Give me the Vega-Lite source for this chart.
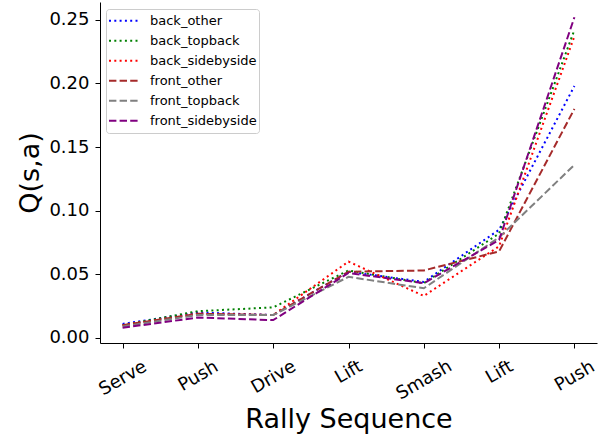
{
  "$schema": "https://vega.github.io/schema/vega-lite/v6.json",
  "width": 497,
  "height": 341,
  "autosize": {"type": "none"},
  "padding": {"left": 100, "top": 2, "right": 8, "bottom": 94},
  "background": "white",
  "config": {
    "view": {"stroke": null},
    "font": "DejaVu Sans",
    "axis": {"domainColor": "black", "tickColor": "black", "labelColor": "black", "titleColor": "black", "grid": false, "labelFont": "DejaVu Sans", "titleFont": "DejaVu Sans", "titleFontWeight": "normal", "labelFontSize": 18, "titleFontSize": 27, "tickSize": 5, "domainWidth": 1, "tickWidth": 1}
  },
  "data": {"values": [
    {"idx": 0, "series": "back_other", "q": 0.011},
    {"idx": 1, "series": "back_other", "q": 0.020},
    {"idx": 2, "series": "back_other", "q": 0.018},
    {"idx": 3, "series": "back_other", "q": 0.052},
    {"idx": 4, "series": "back_other", "q": 0.044},
    {"idx": 5, "series": "back_other", "q": 0.085},
    {"idx": 6, "series": "back_other", "q": 0.198},
    {"idx": 0, "series": "back_topback", "q": 0.010},
    {"idx": 1, "series": "back_topback", "q": 0.021},
    {"idx": 2, "series": "back_topback", "q": 0.024},
    {"idx": 3, "series": "back_topback", "q": 0.053},
    {"idx": 4, "series": "back_topback", "q": 0.043},
    {"idx": 5, "series": "back_topback", "q": 0.082},
    {"idx": 6, "series": "back_topback", "q": 0.242},
    {"idx": 0, "series": "back_sidebyside", "q": 0.010},
    {"idx": 1, "series": "back_sidebyside", "q": 0.019},
    {"idx": 2, "series": "back_sidebyside", "q": 0.018},
    {"idx": 3, "series": "back_sidebyside", "q": 0.060},
    {"idx": 4, "series": "back_sidebyside", "q": 0.033},
    {"idx": 5, "series": "back_sidebyside", "q": 0.072},
    {"idx": 6, "series": "back_sidebyside", "q": 0.237},
    {"idx": 0, "series": "front_other", "q": 0.010},
    {"idx": 1, "series": "front_other", "q": 0.019},
    {"idx": 2, "series": "front_other", "q": 0.018},
    {"idx": 3, "series": "front_other", "q": 0.052},
    {"idx": 4, "series": "front_other", "q": 0.053},
    {"idx": 5, "series": "front_other", "q": 0.068},
    {"idx": 6, "series": "front_other", "q": 0.180},
    {"idx": 0, "series": "front_topback", "q": 0.009},
    {"idx": 1, "series": "front_topback", "q": 0.018},
    {"idx": 2, "series": "front_topback", "q": 0.018},
    {"idx": 3, "series": "front_topback", "q": 0.048},
    {"idx": 4, "series": "front_topback", "q": 0.039},
    {"idx": 5, "series": "front_topback", "q": 0.079},
    {"idx": 6, "series": "front_topback", "q": 0.136},
    {"idx": 0, "series": "front_sidebyside", "q": 0.008},
    {"idx": 1, "series": "front_sidebyside", "q": 0.016},
    {"idx": 2, "series": "front_sidebyside", "q": 0.014},
    {"idx": 3, "series": "front_sidebyside", "q": 0.051},
    {"idx": 4, "series": "front_sidebyside", "q": 0.043},
    {"idx": 5, "series": "front_sidebyside", "q": 0.077},
    {"idx": 6, "series": "front_sidebyside", "q": 0.252}
  ]},
  "mark": {"type": "line", "strokeWidth": 2, "strokeCap": "butt"},
  "encoding": {
    "x": {
      "field": "idx", "type": "quantitative",
      "scale": {"domain": [-0.3, 6.3], "nice": false, "zero": false},
      "axis": {
        "title": "Rally Sequence",
        "values": [0, 1, 2, 3, 4, 5, 6],
        "labelExpr": "['Serve','Push','Drive','Lift','Smash','Lift','Push'][datum.value]",
        "labelAngle": -30,
        "labelAlign": "center",
        "labelBaseline": "middle",
        "labelPadding": {"condition": [
          {"test": "datum.value == 0", "value": 30},
          {"test": "datum.value == 1 || datum.value == 6", "value": 28},
          {"test": "datum.value == 2", "value": 29},
          {"test": "datum.value == 3 || datum.value == 5", "value": 24}
        ], "value": 32},
        "labelFlush": false,
        "labelOverlap": false,
        "titlePadding": 4
      }
    },
    "y": {
      "field": "q", "type": "quantitative",
      "scale": {"domain": [-0.004, 0.264], "nice": false, "zero": false},
      "axis": {"title": "Q(s,a)", "values": [0, 0.05, 0.1, 0.15, 0.2, 0.25], "format": ".2f", "labelPadding": 6, "titlePadding": 4}
    },
    "color": {
      "field": "series", "type": "nominal",
      "scale": {
        "domain": ["back_other", "back_topback", "back_sidebyside", "front_other", "front_topback", "front_sidebyside"],
        "range": ["blue", "green", "red", "brown", "gray", "purple"]
      },
      "legend": {
        "orient": "none", "legendX": 6, "legendY": 7, "title": null,
        "symbolType": "stroke", "symbolSize": 900, "symbolStrokeWidth": 2,
        "labelFont": "DejaVu Sans", "labelFontSize": 13, "labelColor": "black", "labelOffset": 10,
        "strokeColor": "#cccccc", "fillColor": "white", "cornerRadius": 3, "padding": 2, "rowPadding": 0, "clipHeight": 19.7
      }
    },
    "strokeDash": {
      "field": "series", "type": "nominal",
      "scale": {
        "domain": ["back_other", "back_topback", "back_sidebyside", "front_other", "front_topback", "front_sidebyside"],
        "range": [[2, 3.3], [2, 3.3], [2, 3.3], [7.4, 3.2], [7.4, 3.2], [7.4, 3.2]]
      },
      "legend": {
        "orient": "none", "legendX": 6, "legendY": 7, "title": null,
        "symbolType": "stroke", "symbolSize": 900, "symbolStrokeWidth": 2,
        "labelFont": "DejaVu Sans", "labelFontSize": 13, "labelColor": "black", "labelOffset": 10,
        "strokeColor": "#cccccc", "fillColor": "white", "cornerRadius": 3, "padding": 2, "rowPadding": 0, "clipHeight": 19.7
      }
    }
  }
}
